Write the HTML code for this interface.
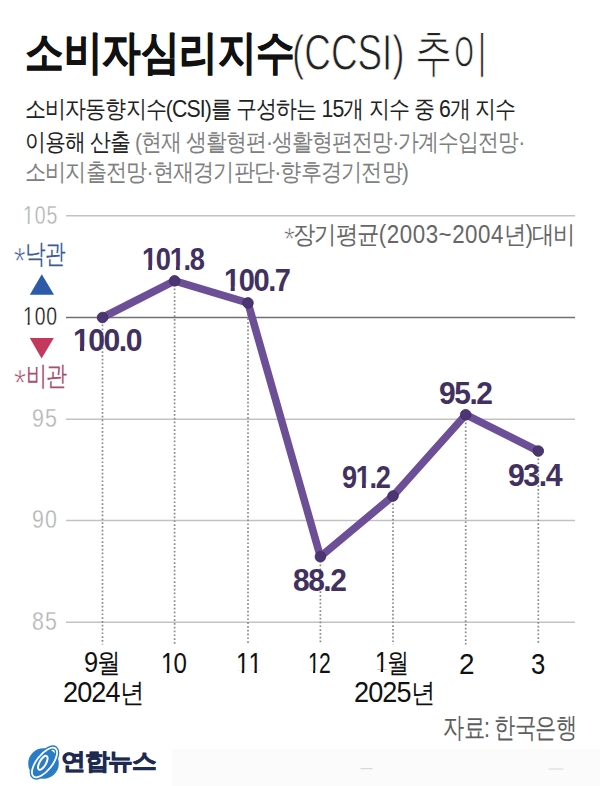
<!DOCTYPE html>
<html><head><meta charset="utf-8">
<style>
html,body{margin:0;padding:0;background:#fff;}
body{width:600px;height:786px;position:relative;overflow:hidden;font-family:"Liberation Sans",sans-serif;color:#111;}
.a{position:absolute;white-space:nowrap;line-height:1;transform-origin:0 0;}
.g{color:#808080;}
.o{display:inline-block;clip-path:polygon(-1em -1em,2em -1em,2em 0.74em,0.34em 0.74em,0.34em 2em,0.24em 2em,0.24em 0.74em,-1em 0.74em);}
.ob{display:inline-block;clip-path:polygon(-1em -1em,2em -1em,2em 0.70em,0.37em 0.70em,0.37em 2em,0.23em 2em,0.23em 0.70em,-1em 0.70em);}
</style></head><body>
<svg class="a" id="chart" style="left:0;top:0" width="600" height="786" viewBox="0 0 600 786">
  <rect x="172" y="749" width="428" height="37" fill="#fbfbfb"/>
  <line x1="361" y1="768.7" x2="372" y2="768.7" stroke="#d8d8d8" stroke-width="1.2" stroke-linecap="round"/>
  <line x1="549" y1="769" x2="563" y2="769" stroke="#d8d8d8" stroke-width="1.2" stroke-linecap="round"/>
  <g stroke="#c2c2c2" stroke-width="1.5">
    <line x1="66" y1="215.8" x2="575" y2="215.8"/>
    <line x1="66" y1="419.3" x2="575" y2="419.3"/>
    <line x1="66" y1="520.5" x2="575" y2="520.5"/>
    <line x1="66" y1="622.2" x2="575" y2="622.2"/>
  </g>
  <line x1="66" y1="317.5" x2="575" y2="317.5" stroke="#707070" stroke-width="1.5"/>
  <g stroke="#8a8a8a" stroke-width="1.7" stroke-dasharray="1.7 2.1">
    <line x1="102.5" y1="317" x2="102.5" y2="644.5"/>
    <line x1="174.6" y1="281" x2="174.6" y2="644.5"/>
    <line x1="248" y1="303" x2="248" y2="644.5"/>
    <line x1="320.4" y1="557" x2="320.4" y2="644.5"/>
    <line x1="393" y1="496" x2="393" y2="644.5"/>
    <line x1="465.7" y1="415" x2="465.7" y2="644.5"/>
    <line x1="538.3" y1="451" x2="538.3" y2="644.5"/>
  </g>
  <polyline points="102.5,317.5 174.6,280.8 248,302.9 320.4,556.7 393,496 465.7,414.7 538.3,451" fill="none" stroke="#6c4f97" stroke-width="7.6" stroke-linejoin="round" stroke-linecap="round"/>
  <g fill="#4c3573" stroke="#3d2a5e" stroke-width="0.8">
    <circle cx="102.5" cy="317.5" r="5.3"/>
    <circle cx="174.6" cy="280.8" r="5.3"/>
    <circle cx="248" cy="302.9" r="5.3"/>
    <circle cx="320.4" cy="556.7" r="5.3"/>
    <circle cx="393" cy="496" r="5.3"/>
    <circle cx="465.7" cy="414.7" r="5.3"/>
    <circle cx="538.3" cy="451" r="5.3"/>
  </g>
  <polygon points="41.8,274.2 29.8,294.8 54,294.8" fill="#2b5ba6"/>
  <polygon points="29.8,338 53.8,338 41.6,358.5" fill="#c4385c"/>
</svg>
<div class="a" id="t1" style="left:25.35px;top:29.95px;font-size:45.73px;font-weight:bold;color:#111;letter-spacing:0px;transform:scaleX(0.8375);-webkit-text-stroke:0.7px #111">소비자심리지수</div>
<div class="a" id="t2" style="left:291.8px;top:27.6px;font-size:49.52px;font-weight:300;color:#222;letter-spacing:0px;transform:scaleX(0.7442);-webkit-text-stroke:0.9px #fff">(CCSI) 추이</div>
<div class="a" id="sub1" style="left:24.97px;top:97.06px;font-size:24.3px;font-weight:350;color:#222;letter-spacing:-1px;transform:scaleX(0.8743)">소비자동향지수(CSI)를 구성하는 15개 지수 중 6개 지수</div>
<div class="a" id="sub2" style="left:25.08px;top:129.94px;font-size:24.3px;font-weight:350;color:#222;letter-spacing:-1px;transform:scaleX(0.8691)">이용해 산출 <span class="g">(현재 생활형편·생활형편전망·가계수입전망·</span></div>
<div class="a" id="sub3" style="left:25.03px;top:159.51px;font-size:24.3px;font-weight:350;color:#808080;letter-spacing:-1px;transform:scaleX(0.8801)">소비지출전망·현재경기판단·향후경기전망)</div>
<div class="a" id="y105" style="left:23.17px;top:203px;font-size:25px;font-weight:normal;color:#b3b3b3;letter-spacing:1.2px;transform:scaleX(0.7791);-webkit-text-stroke:0.3px #fff"><span class="o">1</span>05</div>
<div class="a" id="y100" style="left:23.23px;top:304.03px;font-size:25px;font-weight:normal;color:#111;letter-spacing:1.2px;transform:scaleX(0.7732);-webkit-text-stroke:0.35px #fff"><span class="o">1</span>00</div>
<div class="a" id="y95" style="left:32.49px;top:406px;font-size:25px;font-weight:normal;color:#b3b3b3;letter-spacing:1.2px;transform:scaleX(0.8565);-webkit-text-stroke:0.3px #fff">95</div>
<div class="a" id="y90" style="left:32.49px;top:507px;font-size:25px;font-weight:normal;color:#b3b3b3;letter-spacing:1.2px;transform:scaleX(0.8565);-webkit-text-stroke:0.3px #fff">90</div>
<div class="a" id="y85" style="left:32.49px;top:608.6px;font-size:25px;font-weight:normal;color:#b3b3b3;letter-spacing:1.2px;transform:scaleX(0.8565);-webkit-text-stroke:0.3px #fff">85</div>
<div class="a" id="nak" style="left:25.13px;top:240.11px;font-size:27.4px;font-weight:350;color:#3a5b96;letter-spacing:-1px;transform:scaleX(0.7658)">낙관</div>
<div class="a" id="bi" style="left:25.92px;top:362.58px;font-size:26.74px;font-weight:350;color:#a94f70;letter-spacing:-1px;transform:scaleX(0.7833)">비관</div>
<div class="a" id="nak_s" style="left:14.02px;top:243.94px;font-size:36.81px;font-weight:normal;color:#3a5b96;letter-spacing:0px;transform:scaleX(0.8023);-webkit-text-stroke:0.7px #fff">*</div>
<div class="a" id="bi_s" style="left:13.97px;top:365.94px;font-size:36.81px;font-weight:normal;color:#a94f70;letter-spacing:0px;transform:scaleX(0.8382);-webkit-text-stroke:0.7px #fff">*</div>
<div class="a" id="note" style="left:293.09px;top:221.99px;font-size:24.98px;font-weight:350;color:#666;letter-spacing:-1px;transform:scaleX(0.8940)">장기평균<span style="letter-spacing:0.6px">(2003~2004</span>년)대비</div>
<div class="a" id="note_s" style="left:283.54px;top:225.49px;font-size:30.7px;font-weight:normal;color:#666;letter-spacing:0px;transform:scaleX(0.9134);-webkit-text-stroke:0.7px #fff">*</div>
<div class="a" id="n100" style="left:73.09px;top:325.13px;font-size:30.5px;font-weight:bold;color:#413060;letter-spacing:-1.5px;transform:scaleX(0.9871)"><span class="ob">1</span>00.0</div>
<div class="a" id="n101" style="left:141.98px;top:244.13px;font-size:30.5px;font-weight:bold;color:#413060;letter-spacing:-1.5px;transform:scaleX(0.8936)"><span class="ob">1</span>0<span class="ob">1</span>.8</div>
<div class="a" id="n1007" style="left:224.09px;top:264.85px;font-size:30.5px;font-weight:bold;color:#413060;letter-spacing:-1.5px;transform:scaleX(0.9515)"><span class="ob">1</span>00.7</div>
<div class="a" id="n88" style="left:292.97px;top:564.51px;font-size:30.5px;font-weight:bold;color:#413060;letter-spacing:-1.5px;transform:scaleX(0.9815)">88.2</div>
<div class="a" id="n91" style="left:342.09px;top:461.79px;font-size:30.5px;font-weight:bold;color:#413060;letter-spacing:-1.5px;transform:scaleX(0.8905)">9<span class="ob">1</span>.2</div>
<div class="a" id="n95" style="left:438.8px;top:377.53px;font-size:30.5px;font-weight:bold;color:#413060;letter-spacing:-1.5px;transform:scaleX(0.9824)">95.2</div>
<div class="a" id="n93" style="left:508.2px;top:460.37px;font-size:30.5px;font-weight:bold;color:#413060;letter-spacing:-1.5px;transform:scaleX(0.9941)">93.4</div>
<div class="a" id="x9" style="left:83.56px;top:648.1px;font-size:26.5px;font-weight:normal;color:#111;letter-spacing:-1px;transform:scaleX(0.8729)"><span style="font-size:1.1em">9</span>월</div>
<div class="a" id="x10" style="left:160.82px;top:648.85px;font-size:29px;font-weight:normal;color:#111;letter-spacing:-1px;transform:scaleX(0.8288)"><span class="o">1</span>0</div>
<div class="a" id="x11" style="left:236.05px;top:648.85px;font-size:29px;font-weight:normal;color:#111;letter-spacing:-1px;transform:scaleX(0.8332)"><span class="o">1</span><span class="o">1</span></div>
<div class="a" id="x12" style="left:307.84px;top:648.85px;font-size:29px;font-weight:normal;color:#111;letter-spacing:-1px;transform:scaleX(0.7286)"><span class="o">1</span>2</div>
<div class="a" id="x1" style="left:375.25px;top:648.1px;font-size:26.5px;font-weight:normal;color:#111;letter-spacing:-1px;transform:scaleX(0.8154)"><span style="font-size:1.1em"><span class="o">1</span></span>월</div>
<div class="a" id="x2" style="left:458.64px;top:649.6px;font-size:29px;font-weight:normal;color:#111;letter-spacing:-1px;transform:scaleX(0.9605)">2</div>
<div class="a" id="x3" style="left:530.88px;top:649.6px;font-size:29px;font-weight:normal;color:#111;letter-spacing:-1px;transform:scaleX(0.8866)">3</div>
<div class="a" id="y2024" style="left:63.37px;top:677.48px;font-size:27.2px;font-weight:normal;color:#111;letter-spacing:-1px;transform:scaleX(0.9053)"><span style="font-size:1.1em">2024</span>년</div>
<div class="a" id="y2025" style="left:353.96px;top:677.48px;font-size:27.2px;font-weight:normal;color:#111;letter-spacing:-1px;transform:scaleX(0.9048)"><span style="font-size:1.1em">2025</span>년</div>
<div class="a" id="src" style="left:443.05px;top:713.83px;font-size:28.14px;font-weight:350;color:#5e5e5e;letter-spacing:-1px;transform:scaleX(0.7601)">자료: 한국은행</div>
<div class="a" id="yonhap" style="left:60.89px;top:750.15px;font-size:22.93px;font-weight:bold;color:#1d2b52;letter-spacing:-1px;transform:scaleX(1.0752);-webkit-text-stroke:0.7px #1d2b52">연합뉴스</div>
<svg class="a" id="logo" style="left:24px;top:741.5px" width="40" height="46" viewBox="0 0 40 46">
  <circle cx="19.5" cy="21.5" r="15.3" fill="#2a7cc7"/>
  <ellipse cx="20.5" cy="20.5" rx="7.8" ry="17.8" transform="rotate(38 20.5 20.5)" fill="none" stroke="#2a7cc7" stroke-width="4.5"/>
  <ellipse cx="20.5" cy="20.5" rx="7.8" ry="17.8" transform="rotate(38 20.5 20.5)" fill="none" stroke="#fff" stroke-width="1.8"/>
  <ellipse cx="18.8" cy="20.8" rx="3.2" ry="7.8" transform="rotate(30 18.8 20.8)" fill="none" stroke="#fff" stroke-width="2"/>
</svg>
</body></html>
